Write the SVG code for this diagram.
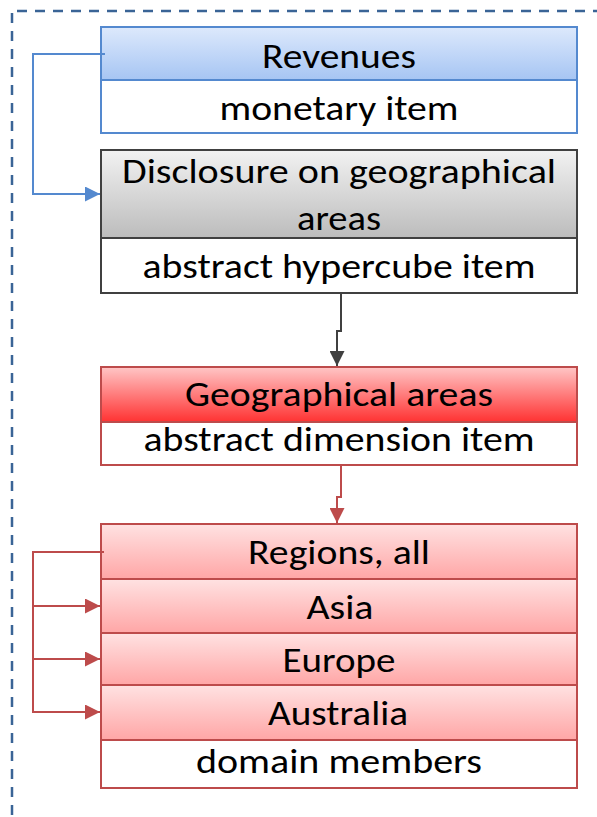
<svg xmlns="http://www.w3.org/2000/svg" width="597" height="817" viewBox="0 0 597 817">
  <style>
    .lbl { font-family: "Carlito", "Liberation Sans", Arial, sans-serif; font-size: 35px; fill: #000; text-anchor: middle; }
    .blue { stroke: #5489cf; stroke-width: 2; }
    .gray { stroke: #404040; stroke-width: 2; }
    .red { stroke: #bd4b4b; stroke-width: 2; }
    .conn { fill: none; stroke-width: 2; }
    .frame { fill: none; stroke: #3a6496; stroke-width: 2.5; stroke-dasharray: 10 8; }
  </style>
  <defs>
    <linearGradient id="gBlue" x1="0" y1="0" x2="0" y2="1">
      <stop offset="0" stop-color="#dde9fc"/>
      <stop offset="1" stop-color="#a6c5f3"/>
    </linearGradient>
    <linearGradient id="gGray" x1="0" y1="0" x2="0" y2="1">
      <stop offset="0" stop-color="#f2f2f2"/>
      <stop offset="1" stop-color="#bcbcbc"/>
    </linearGradient>
    <linearGradient id="gRed" x1="0" y1="0" x2="0" y2="1">
      <stop offset="0" stop-color="#ffc6c6"/>
      <stop offset="1" stop-color="#ff3232"/>
    </linearGradient>
    <linearGradient id="gPink" x1="0" y1="0" x2="0" y2="1">
      <stop offset="0" stop-color="#ffe2e2"/>
      <stop offset="1" stop-color="#ffa6a6"/>
    </linearGradient>
    <marker id="arBlue" markerUnits="userSpaceOnUse" markerWidth="15" markerHeight="15" refX="15" refY="7.5" orient="auto">
      <path d="M0,0 L15,7.5 L0,15 z" fill="#5489cf"/>
    </marker>
    <marker id="arGray" markerUnits="userSpaceOnUse" markerWidth="15" markerHeight="15" refX="15" refY="7.5" orient="auto">
      <path d="M0,0 L15,7.5 L0,15 z" fill="#404040"/>
    </marker>
    <marker id="arRed" markerUnits="userSpaceOnUse" markerWidth="15" markerHeight="15" refX="15" refY="7.5" orient="auto">
      <path d="M0,0 L15,7.5 L0,15 z" fill="#bd4b4b"/>
    </marker>
  </defs>

  <!-- dashed frame: left and top edges only, the rest runs off the page -->
  <path class="frame" d="M12,13 V817"/>
  <path class="frame" d="M17,11 H597"/>

  <g id="revenues">
    <rect x="101" y="27" width="476" height="53" fill="url(#gBlue)" class="blue"/>
    <rect x="101" y="80" width="476" height="53" fill="#fff" class="blue"/>
    <text class="lbl" x="339" y="68" textLength="154" lengthAdjust="spacingAndGlyphs">Revenues</text>
    <text class="lbl" x="339" y="120" textLength="239" lengthAdjust="spacingAndGlyphs">monetary item</text>
  </g>

  <g id="disclosure">
    <rect x="101" y="150" width="476" height="88" fill="url(#gGray)" class="gray"/>
    <rect x="101" y="238" width="476" height="55" fill="#fff" class="gray"/>
    <text class="lbl" x="339" y="183" textLength="434" lengthAdjust="spacingAndGlyphs">Disclosure on geographical</text>
    <text class="lbl" x="339" y="230" textLength="84" lengthAdjust="spacingAndGlyphs">areas</text>
    <text class="lbl" x="339" y="278" textLength="393" lengthAdjust="spacingAndGlyphs">abstract hypercube item</text>
  </g>

  <g id="geographical-areas">
    <rect x="101" y="367" width="476" height="55" fill="url(#gRed)" class="red"/>
    <rect x="101" y="422" width="476" height="43" fill="#fff" class="red"/>
    <text class="lbl" x="339" y="406" textLength="308" lengthAdjust="spacingAndGlyphs">Geographical areas</text>
    <text class="lbl" x="339" y="451" textLength="391" lengthAdjust="spacingAndGlyphs">abstract dimension item</text>
  </g>

  <g id="regions">
    <rect x="101" y="524" width="476" height="55" fill="url(#gPink)" class="red"/>
    <rect x="101" y="579" width="476" height="54" fill="url(#gPink)" class="red"/>
    <rect x="101" y="633" width="476" height="52" fill="url(#gPink)" class="red"/>
    <rect x="101" y="685" width="476" height="55" fill="url(#gPink)" class="red"/>
    <rect x="101" y="740" width="476" height="48" fill="#fff" class="red"/>
    <text class="lbl" x="339" y="564" textLength="182" lengthAdjust="spacingAndGlyphs">Regions, all</text>
    <text class="lbl" x="340" y="619" textLength="67" lengthAdjust="spacingAndGlyphs">Asia</text>
    <text class="lbl" x="339" y="672" textLength="113" lengthAdjust="spacingAndGlyphs">Europe</text>
    <text class="lbl" x="338" y="725" textLength="140" lengthAdjust="spacingAndGlyphs">Australia</text>
    <text class="lbl" x="339" y="773" textLength="286" lengthAdjust="spacingAndGlyphs">domain members</text>
  </g>

  <g id="connectors">
    <path class="conn blue" d="M105,54 H33 V194 H100" marker-end="url(#arBlue)"/>
    <path class="conn gray" d="M341,294 V331 H337 V366" marker-end="url(#arGray)"/>
    <path class="conn red" d="M341,466 V497 H337 V523" marker-end="url(#arRed)"/>
    <path class="conn red" d="M104,552 H33 V712 H100" marker-end="url(#arRed)"/>
    <path class="conn red" d="M33,606 H100" marker-end="url(#arRed)"/>
    <path class="conn red" d="M33,659 H100" marker-end="url(#arRed)"/>
  </g>
</svg>
